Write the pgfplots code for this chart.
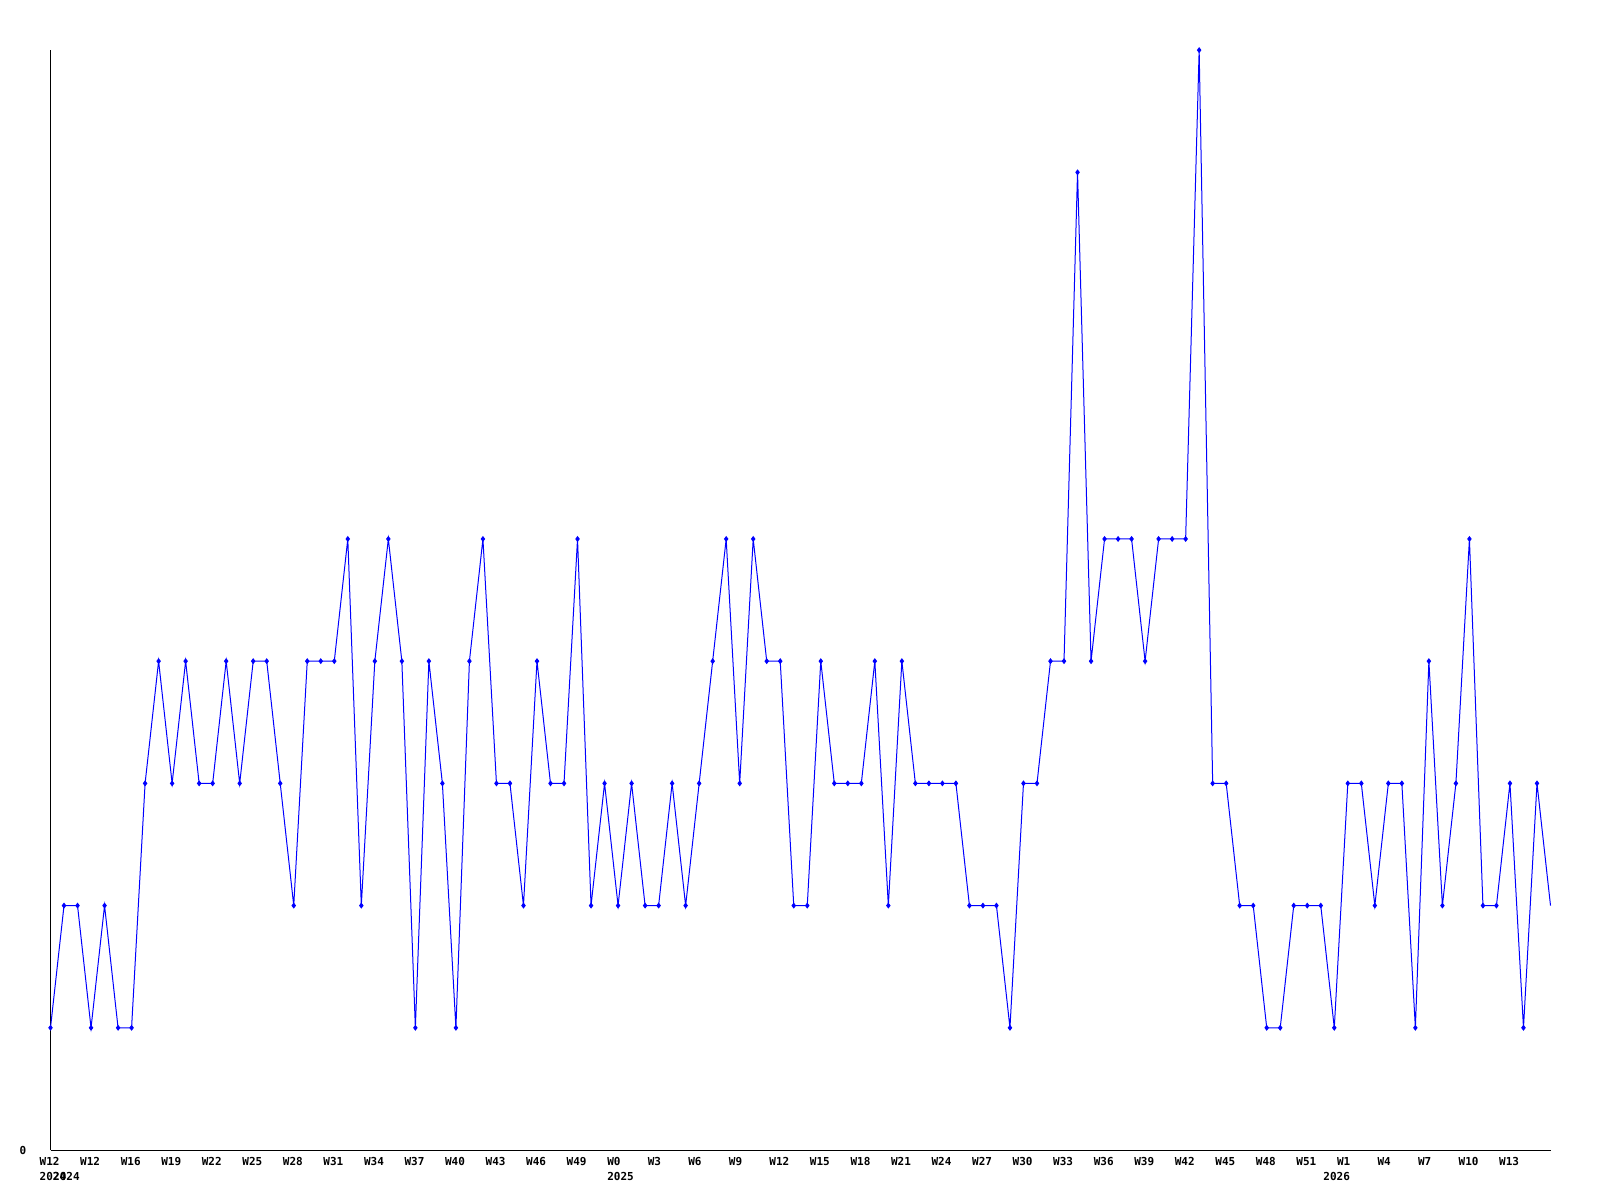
\documentclass[border=0pt]{standalone}
\usepackage{pgfplots}
\pgfplotsset{compat=1.18}
\usepackage{fontspec}
\setmonofont{DejaVu Sans Mono}
\newcommand{\lblfont}{\ttfamily\bfseries\fontsize{11bp}{13bp}\selectfont}
\definecolor{lineblue}{RGB}{0,0,255}
\begin{document}
\begin{tikzpicture}
\useasboundingbox (0,0) rectangle (1600bp,1200bp);
\fill[white] (0,0) rectangle (1600bp,1200bp);
\begin{axis}[
  at={(50.5bp,50bp)}, anchor=south west,
  scale only axis, width=1500bp, height=1100bp,
  xmin=0, xmax=111, ymin=0, ymax=9,
  axis x line=bottom, axis y line=left,
  axis line style={-, black, line width=1bp},
  clip=false,
  major tick length=0pt,
  xtick={0,3,...,108},
  xticklabels={W12,W12,W16,W19,W22,W25,W28,W31,W34,W37,W40,W43,W46,W49,W0,W3,W6,W9,W12,W15,W18,W21,W24,W27,W30,W33,W36,W39,W42,W45,W48,W51,W1,W4,W7,W10,W13},
  xticklabel style={font=\lblfont, anchor=north west, inner sep=0pt, xshift=-11bp, yshift=-7.5bp},
  ytick={0}, yticklabels={0},
  yticklabel style={font=\lblfont, anchor=west, inner sep=0pt, xshift=-31bp, yshift=0bp},
]
\addplot[lineblue, line width=1bp, mark=diamond*, mark size=2.2bp, mark options={solid, fill=lineblue, draw=lineblue}, mark indices={1,...,111}] table {
x y
0 1
1 2
2 2
3 1
4 2
5 1
6 1
7 3
8 4
9 3
10 4
11 3
12 3
13 4
14 3
15 4
16 4
17 3
18 2
19 4
20 4
21 4
22 5
23 2
24 4
25 5
26 4
27 1
28 4
29 3
30 1
31 4
32 5
33 3
34 3
35 2
36 4
37 3
38 3
39 5
40 2
41 3
42 2
43 3
44 2
45 2
46 3
47 2
48 3
49 4
50 5
51 3
52 5
53 4
54 4
55 2
56 2
57 4
58 3
59 3
60 3
61 4
62 2
63 4
64 3
65 3
66 3
67 3
68 2
69 2
70 2
71 1
72 3
73 3
74 4
75 4
76 8
77 4
78 5
79 5
80 5
81 4
82 5
83 5
84 5
85 9
86 3
87 3
88 2
89 2
90 1
91 1
92 2
93 2
94 2
95 1
96 3
97 3
98 2
99 3
100 3
101 1
102 4
103 2
104 3
105 5
106 2
107 2
108 3
109 1
110 3
111 2
};
\node[font=\lblfont, anchor=north west, inner sep=0pt, xshift=-11bp, yshift=-22.5bp] at (axis cs:0,0) {2024};
\node[font=\lblfont, anchor=north west, inner sep=0pt, xshift=-11bp, yshift=-22.5bp] at (axis cs:1,0) {2024};
\node[font=\lblfont, anchor=north west, inner sep=0pt, xshift=-11bp, yshift=-22.5bp] at (axis cs:42,0) {2025};
\node[font=\lblfont, anchor=north west, inner sep=0pt, xshift=-11bp, yshift=-22.5bp] at (axis cs:95,0) {2026};
\end{axis}
\end{tikzpicture}
\end{document}
